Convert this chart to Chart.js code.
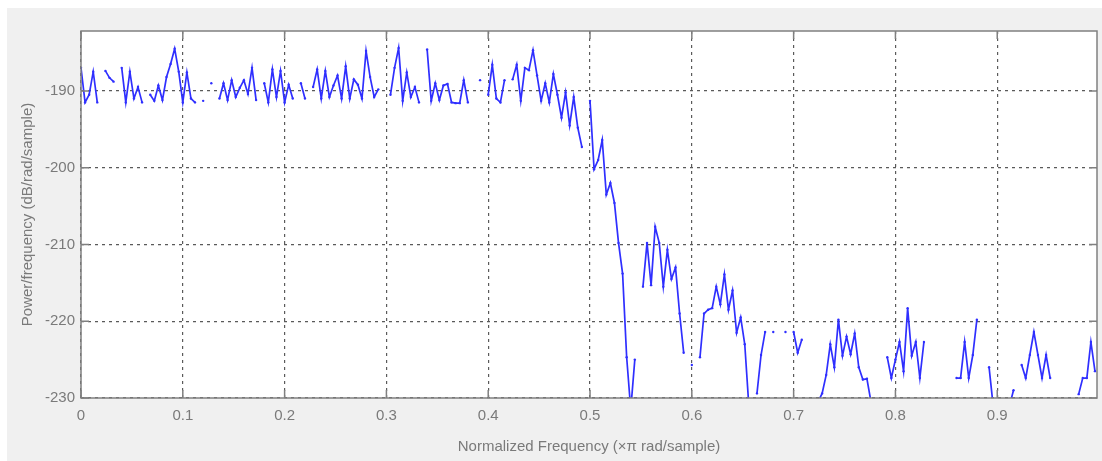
<!DOCTYPE html>
<html lang="en">
<head>
    <meta charset="UTF-8">
    <title>Power Spectral Density</title>
    <script src="https://cdn.jsdelivr.net/npm/chart.js"></script>
    <style>
        html, body {
            margin: 0;
            padding: 0;
            background: #ffffff;
        }
        .chart-box {
            width: 1102px;
            height: 461px;
        }
    </style>
</head>
<body>
    <div class="chart-box">
        <canvas id="psdChart"></canvas>
    </div>

    <script>
        // frequency bin width (x pi rad/sample)
        const binWidth = 0.004;

        // PSD estimate in dB/rad/sample, one value per bin (null = gap in the trace)
        const psd = [
            -187, -191.5, -190.5, -187.5, -191.5, null, -187.4, -188.3, -188.8, null,
            -187, -191.5, -187.5, -191, -189.5, -191.5, null, -190.5, -191.3, -189.3,
            -191.2, -188.2, -186.5, -184.5, -187.5, -191.5, -187.6, -191, -191.5, null,
            -191.3, null, -189, null, -191, -189, -191.2, -188.6, -190.8, -189.6,
            -188.6, -190.4, -187, -191.2, null, -189, -191.5, -187.2, -190.8, -187.4,
            -191.5, -189.2, -191, null, -189, -191, null, -189.5, -187.2, -191,
            -187.4, -190.8, -189.3, -188, -191, -186.8, -191, -188.5, -189.2, -191,
            -184.8, -188.2, -190.8, -189.8, null, null, -190.5, -187, -184.4, -191.3,
            -187.6, -190.8, -189.5, -191.5, null, -184.6, -191.3, -189, -191.2, -189.3,
            -189.1, -191.5, -191.6, -191.6, -188.6, -191.5, null, null, -188.6, null,
            -190.5, -186.6, -191, -191.5, -188.6, null, -188.5, -186.6, -191.3, -187,
            -187.3, -184.7, -188, -191.3, -189, -191.5, -187.8, -190.5, -193.5, -190.2,
            -194.5, -190.8, -194.8, -197.3, null, -191.3, -200.2, -199, -196.4, -203.5,
            -202, -204.6, -209.8, -213.8, -224.7, -231.5, -225, null, -215.5, -209.8,
            -215.3, -207.7, -209.8, -215.5, -210.7, -214.5, -213, -219, -224.1, null,
            -225.7, null, -224.7, -219, -218.5, -218.3, -215.5, -217.8, -213.9, -218.5,
            -216, -221.5, -219.5, -223, -231, null, -229.4, -224.4, -221.4, null,
            -221.4, null, null, -221.4, null, -221.4, -224.1, -222.4, null, null,
            null, -230.5, -229.4, -227, -223, -226, -219.8, -224.5, -222, -224.3,
            -221.6, -226, -227.6, -227.5, -230.5, null, null, null, -224.7, -227.4,
            -225, -222.7, -226.5, -218.3, -224.5, -222.7, -227.4, -222.7, null, null,
            null, null, null, null, null, -227.4, -227.4, -222.7, -227.4, -224.4,
            -219.8, null, null, -226, -231, null, null, null, -231, -229,
            null, -225.7, -227.4, -224.4, -221.4, -224.4, -227.4, -224.4, -227.4, null,
            null, null, null, null, null, -229.5, -227.4, -227.4, -222.7, -226.5
        ];

        const freq = psd.map((v, i) => +(i * binWidth).toFixed(3));

        const xTitle = 'Normalized Frequency (\u00d7\u03c0 rad/sample)';
        const yTitle = 'Power/frequency (dB/rad/sample)';
        const xMin = 0, xMax = 0.998, xStep = 0.1;
        const yMin = -230, yMax = -182.2, yStep = 10;

        const grey = '#7a7a7a';
        const fontFamily = '"Liberation Sans", Arial, sans-serif';

        // figure background, white axes area, box and inward tick marks (matlab look)
        const matlabFrame = {
            id: 'matlabFrame',
            beforeDraw(chart) {
                const { ctx, chartArea: a, width, height } = chart;
                ctx.save();
                ctx.fillStyle = '#ffffff';
                ctx.fillRect(0, 0, width, height);
                ctx.fillStyle = '#f0f0f0';
                ctx.fillRect(7, 8, width - 7, height - 8);
                ctx.fillStyle = '#ffffff';
                ctx.fillRect(a.left, a.top, a.right - a.left, a.bottom - a.top);
                ctx.restore();
            },
            afterDraw(chart) {
                const { ctx, chartArea: a, scales } = chart;
                ctx.save();
                ctx.strokeStyle = '#808080';
                ctx.lineWidth = 1.5;
                ctx.strokeRect(a.left, a.top, a.right - a.left, a.bottom - a.top);
                ctx.beginPath();
                scales.x.ticks.forEach(t => {
                    const px = scales.x.getPixelForValue(t.value);
                    ctx.moveTo(px, a.bottom); ctx.lineTo(px, a.bottom - 8);
                    ctx.moveTo(px, a.top); ctx.lineTo(px, a.top + 8);
                });
                scales.y.ticks.forEach(t => {
                    const py = scales.y.getPixelForValue(t.value);
                    ctx.moveTo(a.left, py); ctx.lineTo(a.left + 8, py);
                    ctx.moveTo(a.right, py); ctx.lineTo(a.right - 8, py);
                });
                ctx.stroke();
                ctx.restore();
            }
        };

        const ctx = document.getElementById('psdChart').getContext('2d');

        new Chart(ctx, {
            type: 'line',
            data: {
                datasets: [{
                    label: 'PSD',
                    data: freq.map((f, i) => ({ x: f, y: psd[i] })),
                    borderColor: '#2f2fff',
                    backgroundColor: '#2f2fff',
                    borderWidth: 1.7,
                    pointRadius: 1.2,
                    pointBorderWidth: 0,
                    pointHoverRadius: 0,
                    spanGaps: false,
                    tension: 0,
                    fill: false
                }]
            },
            options: {
                responsive: true,
                maintainAspectRatio: false,
                animation: false,
                layout: {
                    padding: { left: 0, top: 31, right: 5, bottom: 0 }
                },
                plugins: {
                    legend: { display: false },
                    tooltip: { enabled: false }
                },
                scales: {
                    x: {
                        type: 'linear',
                        min: xMin,
                        max: xMax,
                        afterFit: scale => { scale.height = 63; },
                        ticks: {
                            stepSize: xStep,
                            includeBounds: false,
                            color: grey,
                            padding: 9,
                            maxRotation: 0,
                            font: { family: fontFamily, size: 15 }
                        },
                        grid: {
                            color: '#5a5a5a',
                            lineWidth: 1.2,
                            drawTicks: false
                        },
                        border: { display: false, dash: [3, 4] },
                        title: {
                            display: true,
                            text: xTitle,
                            color: grey,
                            padding: { top: 0, bottom: 5 },
                            font: { family: fontFamily, size: 15 }
                        }
                    },
                    y: {
                        type: 'linear',
                        min: yMin,
                        max: yMax,
                        afterFit: scale => { scale.width = 81; },
                        ticks: {
                            stepSize: yStep,
                            includeBounds: false,
                            color: grey,
                            padding: 6,
                            font: { family: fontFamily, size: 15 }
                        },
                        grid: {
                            color: '#5a5a5a',
                            lineWidth: 1.2,
                            drawTicks: false
                        },
                        border: { display: false, dash: [3, 4] },
                        title: {
                            display: true,
                            text: yTitle,
                            color: grey,
                            padding: { top: 19, bottom: 0 },
                            font: { family: fontFamily, size: 15 }
                        }
                    }
                }
            },
            plugins: [matlabFrame]
        });
    </script>
</body>
</html>
